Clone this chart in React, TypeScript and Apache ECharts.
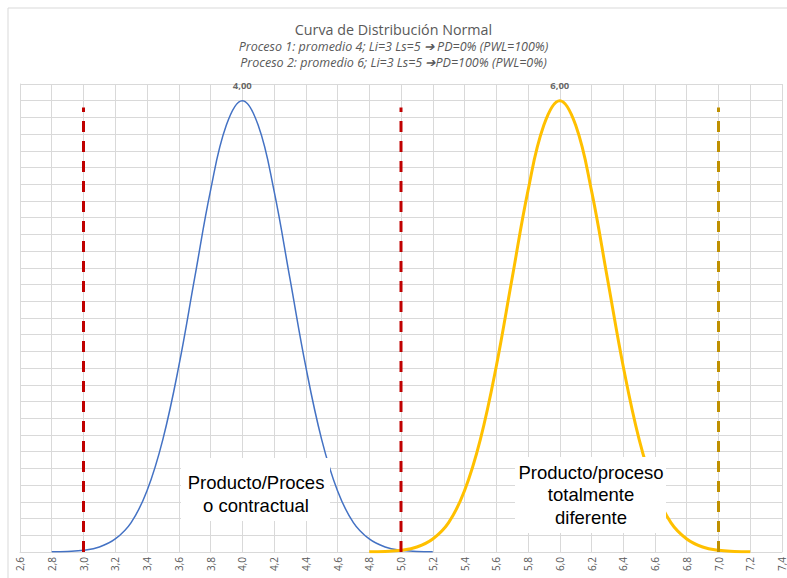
import React, { useEffect, useRef } from "react";
import * as echarts from "echarts";

const titleText = "Curva de Distribución Normal";
const subtitle1 = "Proceso 1: promedio 4; Li=3 Ls=5 ➔ PD=0% (PWL=100%)";
const subtitle2 = "Proceso 2: promedio 6; Li=3 Ls=5 ➔PD=100% (PWL=0%)";

const proceso1X = [2.8, 2.9, 3.0, 3.1, 3.2, 3.3, 3.4, 3.5, 3.6, 3.7, 3.8, 3.9, 4.0, 4.1, 4.2, 4.3, 4.4, 4.5, 4.6, 4.7, 4.8, 4.9, 5.0, 5.1, 5.2];
const proceso1Y = [0.0004, 0.0016, 0.005, 0.015, 0.039, 0.088, 0.183, 0.337, 0.555, 0.819, 1.081, 1.277, 1.35, 1.277, 1.081, 0.819, 0.555, 0.337, 0.183, 0.088, 0.039, 0.015, 0.005, 0.0016, 0.0004];

const proceso2X = [4.8, 4.9, 5.0, 5.1, 5.2, 5.3, 5.4, 5.5, 5.6, 5.7, 5.8, 5.9, 6.0, 6.1, 6.2, 6.3, 6.4, 6.5, 6.6, 6.7, 6.8, 6.9, 7.0, 7.1, 7.2];
const proceso2Y = [0.0004, 0.0016, 0.005, 0.015, 0.039, 0.088, 0.183, 0.337, 0.555, 0.819, 1.081, 1.277, 1.35, 1.277, 1.081, 0.819, 0.555, 0.337, 0.183, 0.088, 0.039, 0.015, 0.005, 0.0016, 0.0004];

const peaks = [
  [4.0, 1.35],
  [6.0, 1.35],
];

const limiteInf = 3.0;
const limiteSup = 5.0;
const limiteExtra = 7.0;
const limiteTop = 1.33;

const box1Lines = ["Producto/Proces", "o contractual"];
const box2Lines = ["Producto/proceso", "totalmente", "diferente"];

const fmt = (v: number) => v.toFixed(1).replace(".", ",");

export default function App() {
  const ref = useRef<HTMLDivElement>(null);
  useEffect(() => {
    document.body.style.margin = "0";
    const chart = echarts.init(ref.current!, null, { renderer: "svg" });
    const s1 = proceso1X.map((x, i) => [x, proceso1Y[i]]);
    const s2 = proceso2X.map((x, i) => [x, proceso2Y[i]]);
    const vline = (x: number, color: string) => ({
      type: "line",
      data: [[x, 0], [x, limiteTop]],
      symbol: "none",
      lineStyle: { color, width: 3, type: [11, 9] },
      silent: true,
      z: 3,
    });
    const subStyle = {
      fontSize: 12.5,
      fontStyle: "italic",
      fontWeight: "normal",
      color: "#595959",
      fontFamily: "Open Sans",
    };
    chart.setOption({
      animation: false,
      backgroundColor: "#ffffff",
      grid: { left: 20, right: 2, top: 84, bottom: 26 },
      title: [
        {
          text: titleText,
          left: "center",
          top: 17,
          textStyle: { fontSize: 14.3, fontWeight: "normal", color: "#595959", fontFamily: "Open Sans" },
        },
        { text: subtitle1, left: "center", top: 35, textStyle: subStyle },
        { text: subtitle2, left: "center", top: 51, textStyle: subStyle },
      ],
      xAxis: {
        type: "value",
        min: 2.6,
        max: 7.4,
        interval: 0.2,
        axisLine: { show: true, lineStyle: { color: "#d9d9d9" } },
        axisTick: { show: false },
        splitLine: { show: true, lineStyle: { color: "#d9d9d9", width: 1 } },
        axisLabel: {
          rotate: 90,
          formatter: (v: number) => fmt(v),
          fontSize: 10,
          color: "#595959",
          fontFamily: "Open Sans",
          margin: 5,
          showMinLabel: true,
          showMaxLabel: true,
        },
      },
      yAxis: {
        type: "value",
        min: 0,
        max: 1.4,
        interval: 0.05,
        axisLine: { show: true, lineStyle: { color: "#d9d9d9" } },
        axisTick: { show: false },
        axisLabel: { show: false },
        splitLine: { show: true, lineStyle: { color: "#d9d9d9", width: 1 } },
      },
      series: [
        {
          type: "line",
          data: s1,
          smooth: 0.4,
          symbol: "none",
          lineStyle: { color: "#4472C4", width: 1.5 },
          itemStyle: { color: "#4472C4" },
          z: 2,
        },
        {
          type: "line",
          data: s2,
          smooth: 0.4,
          symbol: "none",
          lineStyle: { color: "#FFC000", width: 3 },
          itemStyle: { color: "#FFC000" },
          z: 2,
        },
        {
          type: "scatter",
          data: peaks,
          symbolSize: 2,
          itemStyle: { color: "rgba(0,0,0,0)" },
          silent: true,
          label: {
            show: true,
            position: "top",
            distance: 9,
            formatter: (p: any) => p.value[0].toFixed(2).replace(".", ","),
            fontSize: 9.5,
            fontWeight: "bold",
            color: "#404040",
            fontFamily: "Open Sans",
          },
          z: 4,
        },
        vline(limiteInf, "#C00000"),
        vline(limiteSup, "#C00000"),
        vline(limiteExtra, "#BF9000"),
      ],
      graphic: [
        {
          type: "rect",
          shape: { x: 8, y: 8, width: 800, height: 600 },
          style: { fill: "none", stroke: "#d9d9d9", lineWidth: 1 },
          silent: true,
          z: -1,
        },
        {
          type: "rect",
          shape: { x: 181, y: 458, width: 149, height: 63 },
          style: { fill: "#ffffff" },
          z: 10,
        },
        {
          type: "text",
          x: 256,
          y: 493.5,
          style: {
            text: box1Lines.join("\n"),
            fill: "#000000",
            font: "18.5px 'Liberation Sans', Arial, sans-serif",
            align: "center",
            verticalAlign: "middle",
            lineHeight: 23,
          },
          z: 11,
        },
        {
          type: "rect",
          shape: { x: 515, y: 457, width: 151, height: 76 },
          style: { fill: "#ffffff" },
          z: 10,
        },
        {
          type: "text",
          x: 591,
          y: 494.5,
          style: {
            text: box2Lines.join("\n"),
            fill: "#000000",
            font: "18.5px 'Liberation Sans', Arial, sans-serif",
            align: "center",
            verticalAlign: "middle",
            lineHeight: 22.5,
          },
          z: 11,
        },
      ],
    });
    return () => chart.dispose();
  }, []);
  return <div ref={ref} style={{ width: 787, height: 578 }} />;
}
